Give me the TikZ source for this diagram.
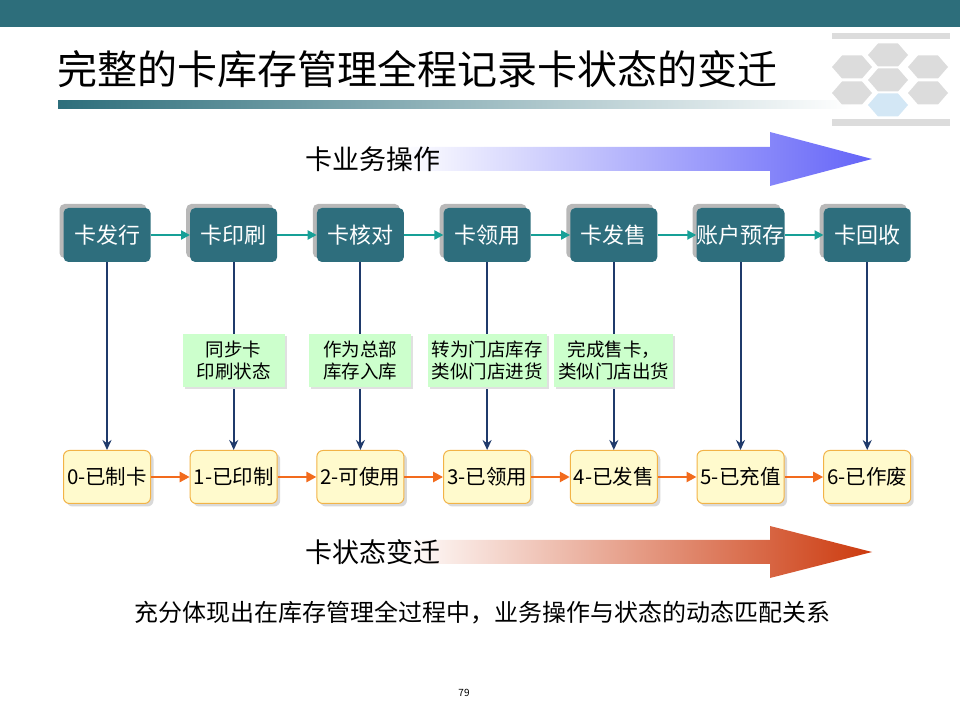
\documentclass[tikz,border=0pt]{standalone}
\usepackage{fontspec}
\setmainfont{Noto Sans CJK SC}
\usepackage{tikz}
\usetikzlibrary{arrows.meta,positioning,calc,shadows}
\definecolor{bandteal}{HTML}{2D6E7B}
\definecolor{opteal}{HTML}{2E6E7D}
\definecolor{linkteal}{HTML}{17A097}
\definecolor{navyline}{HTML}{1F3A6B}
\definecolor{notegreen}{HTML}{CCFFCC}
\definecolor{stfill}{HTML}{FFFACD}
\definecolor{stdraw}{HTML}{F2B347}
\definecolor{orangelink}{HTML}{F26B1D}
\definecolor{opblue}{HTML}{6464F8}
\definecolor{stred}{HTML}{CC3A0E}
\definecolor{hexgrey}{HTML}{DCDCDC}
\definecolor{hexblue}{HTML}{D3E7F5}
\tikzset{
  opbox/.style={fill=opteal, text=white, rounded corners=5pt, minimum width=87pt, minimum height=54pt, inner xsep=0pt, font=\fontsize{22}{26}\selectfont, drop shadow={shadow xshift=-4pt, shadow yshift=4pt, fill=black!28, opacity=1}},
  statebox/.style={fill=stfill, draw=stdraw, line width=1pt, rounded corners=6pt, minimum width=87pt, minimum height=53pt, inner xsep=1pt, font=\fontsize{20.5}{24}\selectfont, drop shadow={shadow xshift=3pt, shadow yshift=-3pt, fill=black!25, opacity=0.6}},
  notebox/.style={fill=notegreen, minimum width=102pt, minimum height=53pt, inner xsep=4pt, align=center, font=\fontsize{18.5}{22}\selectfont, drop shadow={shadow xshift=2pt, shadow yshift=-2pt, fill=black!12, opacity=1}},
  bigtext/.style={anchor=west, inner sep=0pt, font=\fontsize{27}{31}\selectfont},
  oparrow/.style={-{Triangle[length=9pt,width=9pt]}, draw=linkteal, line width=2pt},
  statearrow/.style={-{Triangle[length=10pt,width=10pt]}, draw=orangelink, line width=2.5pt},
  downarrow/.style={-{Stealth[length=10pt,width=9pt]}, draw=navyline, line width=2pt},
  hexcell/.pic={\fill[pic actions] (-20,0) -- (-10,11.5) -- (10,11.5) -- (20,0) -- (10,-11.5) -- (-10,-11.5) -- cycle;}
}

\begin{document}
\begin{tikzpicture}[x=1pt, y=1pt, node distance=126.7pt, on grid]
\useasboundingbox (0,0) rectangle (960,720);
% header
\fill[bandteal] (0,693) rectangle (960,720);
\node[anchor=west, inner sep=0pt, font=\fontsize{40}{46}\selectfont] (title) at (57,651) {完整的卡库存管理全程记录卡状态的变迁};
\shade[left color=bandteal, right color=white] (58,611) rectangle (850,619);
% logo
\fill[hexgrey] (832,681) rectangle (950,687);
\fill[hexgrey] (832,594) rectangle (950,601);
\pic[fill=hexgrey] at (888,665) {hexcell};
\pic[fill=hexgrey] at (852,653) {hexcell};
\pic[fill=hexgrey] at (928,653) {hexcell};
\pic[fill=hexgrey] at (888,640) {hexcell};
\pic[fill=hexgrey] at (852,627) {hexcell};
\pic[fill=hexgrey] at (928,627) {hexcell};
\pic[fill=hexblue] at (888,615) {hexcell};

% big arrows
\shade[left color=white, right color=opblue] (400,549) -- (770,549) -- (770,534) -- (872,561) -- (770,588) -- (770,573) -- (400,573) -- cycle;
\node[bigtext] (optitle) at (305,561) {卡业务操作};
\shade[left color=white, right color=stred] (400,156) -- (770,156) -- (770,142) -- (872,168) -- (770,194) -- (770,180) -- (400,180) -- cycle;
\node[bigtext] (sttitle) at (305,168) {卡状态变迁};

% operations
\node[opbox] (op1) at (107,485) {卡发行};
\node[opbox, right=of op1] (op2) {卡印刷};
\node[opbox, right=of op2] (op3) {卡核对};
\node[opbox, right=of op3] (op4) {卡领用};
\node[opbox, right=of op4] (op5) {卡发售};
\node[opbox, right=of op5] (op6) {账户预存};
\node[opbox, right=of op6] (op7) {卡回收};

% states
\node[statebox, below=242pt of op1] (st0) {0-已制卡};
\node[statebox, right=of st0] (st1) {1-已印制};
\node[statebox, right=of st1] (st2) {2-可使用};
\node[statebox, right=of st2] (st3) {3-已领用};
\node[statebox, right=of st3] (st4) {4-已发售};
\node[statebox, right=of st4] (st5) {5-已充值};
\node[statebox, right=of st5] (st6) {6-已作废};

\draw[oparrow] (op1) -- (op2);
\draw[oparrow] (op2) -- (op3);
\draw[oparrow] (op3) -- (op4);
\draw[oparrow] (op4) -- (op5);
\draw[oparrow] (op5) -- (op6);
\draw[oparrow] (op6) -- (op7);

\draw[statearrow] (st0) -- (st1);
\draw[statearrow] (st1) -- (st2);
\draw[statearrow] (st2) -- (st3);
\draw[statearrow] (st3) -- (st4);
\draw[statearrow] (st4) -- (st5);
\draw[statearrow] (st5) -- (st6);

\draw[downarrow] (op1) -- (st0);
\draw[downarrow] (op2) -- (st1);
\draw[downarrow] (op3) -- (st2);
\draw[downarrow] (op4) -- (st3);
\draw[downarrow] (op5) -- (st4);
\draw[downarrow] (op6) -- (st5);
\draw[downarrow] (op7) -- (st6);

% notes on the links
\node[notebox] (nt1) at ($(op2)!0.52!(st1)$) {同步卡\\印刷状态};
\node[notebox] (nt2) at ($(op3)!0.52!(st2)$) {作为总部\\库存入库};
\node[notebox] (nt3) at ($(op4)!0.52!(st3)$) {转为门店库存\\类似门店进货};
\node[notebox] (nt4) at ($(op5)!0.52!(st4)$) {完成售卡，\\类似门店出货};

\node[font=\fontsize{24}{28}\selectfont] (summary) at (482,107) {充分体现出在库存管理全过程中，业务操作与状态的动态匹配关系};
\node[font=\fontsize{10}{12}\selectfont] (pageno) at (464,27) {79};
\end{tikzpicture}
\end{document}
